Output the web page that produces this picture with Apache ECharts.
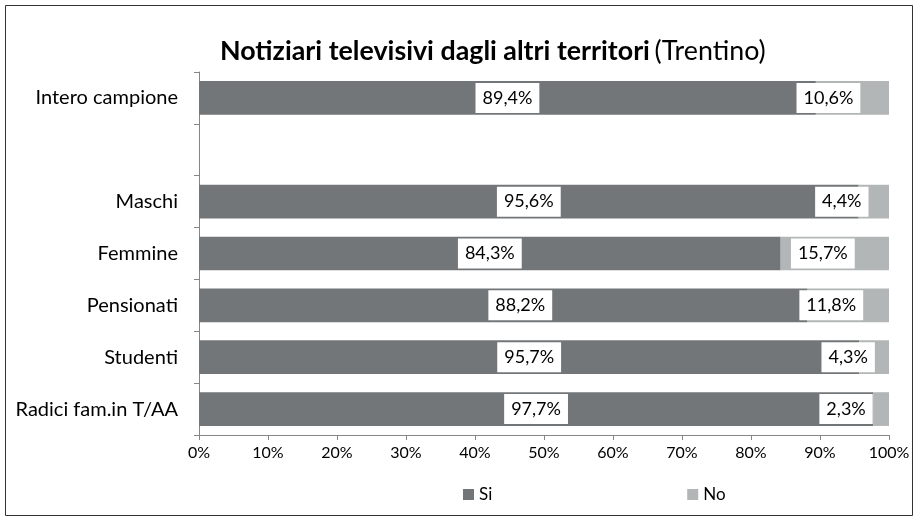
<!DOCTYPE html>
<html>
<head>
<meta charset="utf-8">
<script src="https://cdn.jsdelivr.net/npm/echarts@6/dist/echarts.min.js"></script>
<style>
  html, body { margin: 0; padding: 0; background: #fff; }
  #main { width: 921px; height: 522px; }
</style>
</head>
<body>
<div id="main"></div>
<script>
// categories (empty one is the gap row)
const categories = ["Intero campione", "", "Maschi", "Femmine", "Pensionati", "Studenti", "Radici fam.in T/AA"];
const siValues = [89.4, null, 95.6, 84.3, 88.2, 95.7, 97.7];
const noValues = [10.6, null, 4.4, 15.7, 11.8, 4.3, 2.3];
const xTicks = [0, 10, 20, 30, 40, 50, 60, 70, 80, 90, 100];

// hand-placed label shifts (px), as in the original
const siShift = [0, 0, 0, 0, 17, 0, 0];
const noShift = [-24, 0, -32, -12, -17, -26, -35];

const FONT = "Lato";
const chart = echarts.init(document.getElementById("main"));

function fmt(v) {
  return v.toFixed(1).replace(".", ",") + "%";
}

function makeData(values, shift) {
  return values.map(function (v, i) {
    if (v === null) return "-";
    return { value: v, label: { offset: [shift[i], 0] } };
  });
}

const labelStyle = {
  show: true,
  position: "inside",
  color: "#000",
  fontFamily: FONT,
  fontSize: 18,
  backgroundColor: "#fff",
  padding: [7, 7, 5, 7],
  formatter: function (p) { return fmt(p.value); },
};

chart.setOption({
  animation: false,
  textStyle: { fontFamily: FONT },
  graphic: [{
    type: "rect",
    shape: { x: 5.5, y: 5.5, width: 907, height: 510 },
    style: { fill: "none", stroke: "#333", lineWidth: 1 },
  }],
  title: {
    left: 215,
    top: 33,
    text: "{b|Notiziari televisivi dagli altri territori} {n|(Trentino)}",
    textStyle: {
      fontWeight: "normal",
      rich: {
        b: { fontFamily: FONT, fontWeight: "bold", fontSize: 26.8, color: "#000" },
        n: { fontFamily: FONT, fontWeight: "normal", fontSize: 26.8, color: "#000" },
      },
    },
  },
  legend: {
    left: 458,
    top: 481,
    itemWidth: 11,
    itemHeight: 11,
    itemGap: 195,
    icon: "rect",
    textStyle: { fontFamily: FONT, fontSize: 17, color: "#000" },
    data: ["Si", "No"],
  },
  grid: { left: 199, right: 32, top: 72, bottom: 87 },
  xAxis: {
    type: "value",
    min: xTicks[0],
    max: xTicks[xTicks.length - 1],
    interval: 10,
    axisLine: { show: true, lineStyle: { color: "#868686" } },
    axisTick: { show: true, length: 5, lineStyle: { color: "#868686" } },
    splitLine: { show: false },
    axisLabel: { color: "#000", fontSize: 16, fontFamily: FONT, margin: 10, formatter: "{value}%" },
  },
  yAxis: {
    type: "category",
    inverse: true,
    data: categories,
    axisLine: { show: true, lineStyle: { color: "#868686" } },
    axisTick: { show: true, length: 5, lineStyle: { color: "#868686" } },
    axisLabel: { color: "#000", fontSize: 20, fontFamily: FONT, margin: 21 },
  },
  series: [
    {
      name: "Si",
      type: "bar",
      stack: "tot",
      barWidth: "65%",
      itemStyle: { color: "#737678" },
      label: labelStyle,
      data: makeData(siValues, siShift),
    },
    {
      name: "No",
      type: "bar",
      stack: "tot",
      barWidth: "65%",
      itemStyle: { color: "#b3b6b6" },
      label: labelStyle,
      data: makeData(noValues, noShift),
    },
  ],
});
</script>
</body>
</html>
